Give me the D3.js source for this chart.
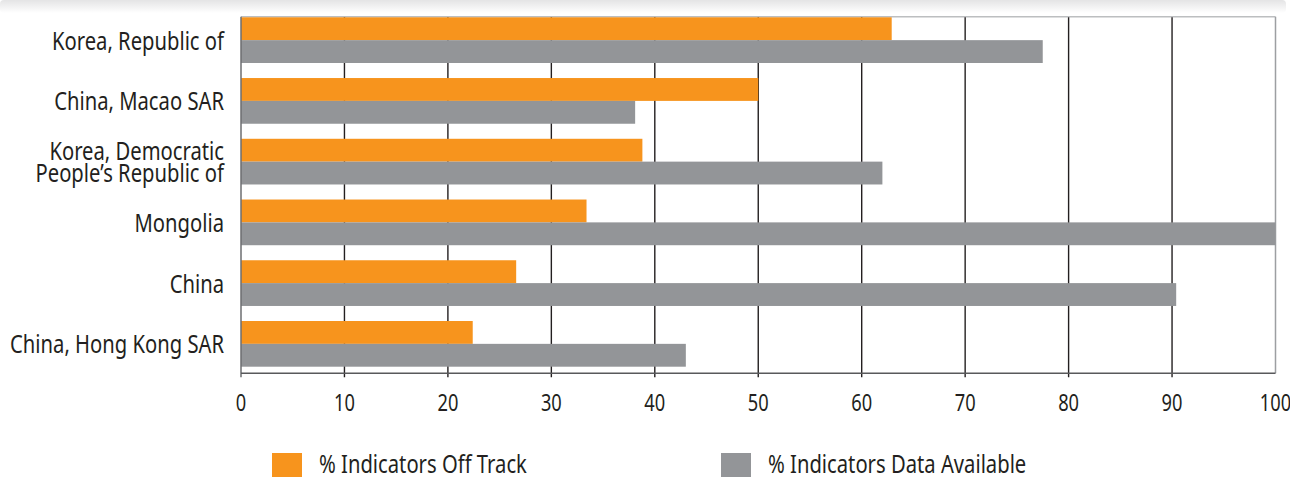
<!DOCTYPE html>
<html>
<head>
<meta charset="utf-8">
<script src="https://cdn.jsdelivr.net/npm/d3@7"></script>
<style>
  body { margin: 0; background: #fff; }
  svg { display: block; font-family: "Noto Sans", "Open Sans", sans-serif; }
</style>
</head>
<body>
<svg width="1290" height="477"></svg>
<script>
// data
var countries = ["Korea, Republic of", "China, Macao SAR", "Korea, Democratic\nPeople\u2019s Republic of", "Mongolia", "China", "China, Hong Kong SAR"];
var offTrack = [62.9, 50.0, 38.8, 33.4, 26.6, 22.4];
var dataAvailable = [77.5, 38.1, 62.0, 100, 90.4, 43.0];
var seriesNames = ["% Indicators Off Track", "% Indicators Data Available"];
var ticks = [0, 10, 20, 30, 40, 50, 60, 70, 80, 90, 100];

var svg = d3.select("svg"),
    width = +svg.attr("width"),
    height = +svg.attr("height");

var plotLeft = 241, plotRight = 1275.5, plotTop = 17.3, plotBottom = 373.3;

// no condensed face installed, so squeeze the text horizontally
// (measure the widest label and fit it to the reference width)
var probe = svg.append("text").attr("font-size", 26).text("China, Hong Kong SAR");
var squeeze = 214 / probe.node().getComputedTextLength();
probe.remove();

function addText(parent, tx, ty, str, size, anchor) {
  return parent.append("g")
      .attr("transform", "translate(" + tx + "," + ty + ")scale(" + squeeze + ",1)")
    .append("text")
      .attr("text-anchor", anchor)
      .attr("font-size", size)
      .attr("fill", "#231f20")
      .text(str);
}

// soft shadow band across the top
var defs = svg.append("defs");
var grad = defs.append("linearGradient")
    .attr("id", "topShade")
    .attr("x1", 0).attr("y1", 0).attr("x2", 0).attr("y2", 1);
grad.append("stop").attr("offset", "0%").attr("stop-color", "#e4e4e5");
grad.append("stop").attr("offset", "100%").attr("stop-color", "#ffffff");
svg.append("rect")
    .attr("x", 0).attr("y", 0)
    .attr("width", 1286).attr("height", 13)
    .attr("rx", 4)
    .attr("fill", "url(#topShade)");

var x = d3.scaleLinear()
    .domain([0, 100])
    .range([plotLeft, plotRight]);

var y = d3.scaleBand()
    .domain(countries)
    .range([plotTop, 366.7])
    .paddingInner(0.2476)
    .paddingOuter(0)
    .align(0);

var sub = d3.scaleBand()
    .domain([0, 1])
    .range([0, y.bandwidth()]);

var colors = ["#f7941d", "#939598"];

var rows = countries.map(function(c, i) {
  return { name: c, values: [offTrack[i], dataAvailable[i]] };
});

// frame
svg.append("line")
    .attr("x1", plotLeft).attr("x2", plotRight)
    .attr("y1", plotTop - 0.5).attr("y2", plotTop - 0.5)
    .attr("stroke", "#bcbec0").attr("stroke-width", 1.5);
svg.append("line")
    .attr("x1", plotRight).attr("x2", plotRight)
    .attr("y1", plotTop - 0.5).attr("y2", plotBottom)
    .attr("stroke", "#9d9fa2").attr("stroke-width", 1.5);

// gridlines
svg.append("g")
  .selectAll("line")
  .data(ticks.slice(1, -1))
  .enter().append("line")
    .attr("x1", function(d) { return x(d); })
    .attr("x2", function(d) { return x(d); })
    .attr("y1", plotTop)
    .attr("y2", plotBottom + 4)
    .attr("stroke", "#231f20")
    .attr("stroke-width", 1.4);

// bars
var group = svg.append("g")
  .selectAll("g")
  .data(rows)
  .enter().append("g")
    .attr("transform", function(d) { return "translate(0," + y(d.name) + ")"; });

group.selectAll("rect")
  .data(function(d) { return d.values; })
  .enter().append("rect")
    .attr("x", x(0))
    .attr("y", function(d, i) { return sub(i); })
    .attr("width", function(d) { return x(d) - x(0); })
    .attr("height", sub.bandwidth())
    .attr("fill", function(d, i) { return colors[i]; });

// left border and bottom axis
svg.append("line")
    .attr("x1", plotLeft).attr("x2", plotLeft)
    .attr("y1", plotTop - 0.5).attr("y2", plotBottom + 4)
    .attr("stroke", "#6d6e71").attr("stroke-width", 1.5);
svg.append("line")
    .attr("x1", plotLeft).attr("x2", plotRight)
    .attr("y1", plotBottom).attr("y2", plotBottom)
    .attr("stroke", "#58595b").attr("stroke-width", 1.5);

// tick labels
var tickG = svg.append("g");
ticks.forEach(function(t) {
  addText(tickG, x(t), 411, t, 23.5, "middle");
});

// category labels
var labelG = svg.append("g");
rows.forEach(function(d) {
  var lines = d.name.split("\n");
  var cy = y(d.name) + y.bandwidth() / 2;
  lines.forEach(function(l, k) {
    addText(labelG, 224, cy + 9.5 + (k - (lines.length - 1) / 2) * 22, l, 26, "end");
  });
});

// legend
var legend = svg.append("g")
  .selectAll("g")
  .data(seriesNames)
  .enter().append("g")
    .attr("transform", function(d, i) { return "translate(" + (272 + i * 449) + ",453)"; });

legend.append("rect")
    .attr("width", 30)
    .attr("height", 24)
    .attr("fill", function(d, i) { return colors[i]; });

legend.each(function(d) {
  addText(d3.select(this), 47, 20, d, 26, "start");
});
</script>
</body>
</html>
